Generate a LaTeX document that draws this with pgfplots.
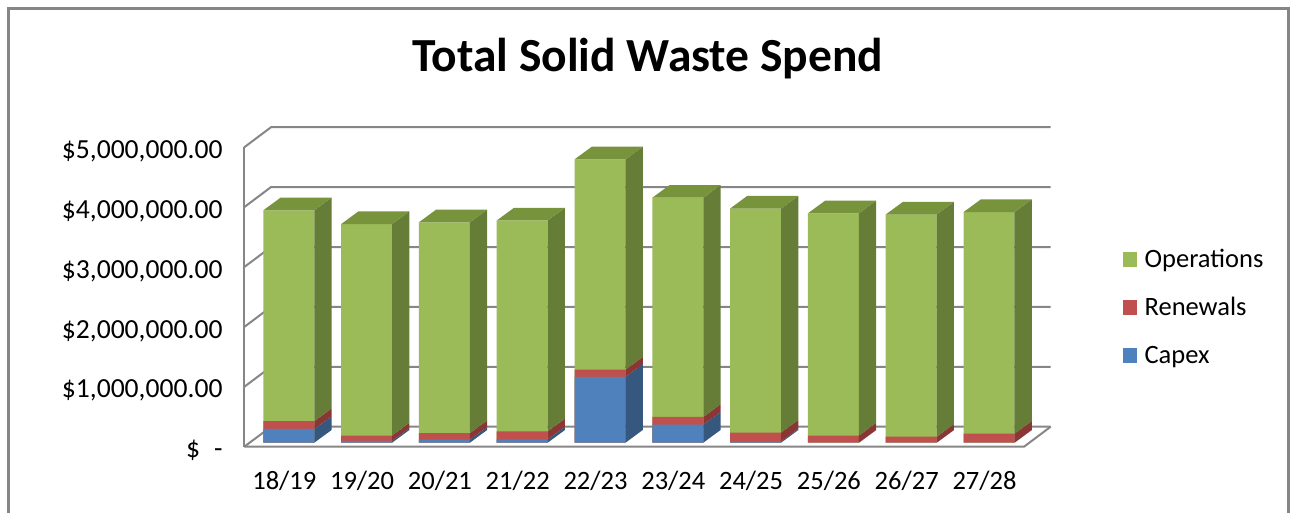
\documentclass[border=0pt]{standalone}
\usepackage{fontspec}
\setmainfont{Carlito}
\usepackage{pgfplots}
\usepackage{pgfplotstable}
\pgfplotsset{compat=1.18}

\definecolor{opsF}{HTML}{9BBB59}
\definecolor{opsS}{HTML}{657D36}
\definecolor{opsT}{HTML}{77933C}
\definecolor{renF}{HTML}{C0504D}
\definecolor{renS}{HTML}{8A3634}
\definecolor{capF}{HTML}{4F81BD}
\definecolor{capS}{HTML}{36587F}
\definecolor{gridc}{RGB}{134,134,134}

% values in millions of dollars
\pgfplotstableread{
idx capex ren ops
0 0.23 0.13 3.52
1 0.03 0.09 3.53
2 0.05 0.11 3.52
3 0.055 0.135 3.52
4 1.10 0.12 3.51
5 0.30 0.13 3.66
6 0.02 0.15 3.74
7 0.00 0.12 3.71
8 0.00 0.10 3.71
9 0.00 0.15 3.70
}\datatable

\begin{document}
\begin{tikzpicture}[x=1pt,y=1pt]
\path[use as bounding box] (0,0) rectangle (1297,512);
\clip (0,0) rectangle (1297,512);
\draw[gridc, line width=2.5pt] (8.5,-20) rectangle (1288.5,503.5);
\node[anchor=base, font=\fontsize{47.5}{52}\selectfont\bfseries] at (647.7,440) {Total Solid Waste Spend};

\begin{axis}[
  at={(244.3pt,65.3pt)}, anchor=south west,
  scale only axis, width=779.7pt, height=299.7pt,
  xmin=-0.572, xmax=9.450, ymin=-0.0668, ymax=4.937,
  clip=false,
  axis line style={draw=none},
  major tick length=0pt,
  xtick={0,...,9},
  xticklabels={18/19,19/20,20/21,21/22,22/23,23/24,24/25,25/26,26/27,27/28},
  ytick={-0.0668,0.9332,1.9332,2.9332,3.9332,4.9332},
  yticklabels={{\$\hspace{14pt}-\hspace{5pt}},{\$1,000,000.00},{\$2,000,000.00},{\$3,000,000.00},{\$4,000,000.00},{\$5,000,000.00}},
  ticklabel style={font=\fontsize{26.5}{30}\selectfont, inner sep=0pt},
  xticklabel style={anchor=center, yshift=-34.3pt, xshift=-4.5pt},
  yticklabel style={anchor=east, xshift=-21.6pt, yshift=-4pt, font=\fontsize{27.6}{31}\selectfont},
  legend style={draw=none, fill=none, at={(1.1266,0.4585)}, anchor=west,
    font=\fontsize{26.5}{30}\selectfont, row sep=24pt, column sep=8pt, inner sep=0pt,
    nodes={inner sep=0pt, text height=18pt, text depth=6pt}},
  legend cell align=left,
]
% walls and floor
\addplot[gridc, line width=2pt, forget plot] coordinates {(-0.572,-0.0668) (-0.572,4.9332)};
\addplot[gridc, line width=2pt, forget plot] coordinates {(-0.572,-0.0668) (9.450,-0.0668) (9.793,0.267)};
\pgfplotsinvokeforeach{0,1,2,3,4,5}{
  \pgfmathsetmacro\gF{#1-0.0668}
  \pgfmathsetmacro\gB{#1+0.267}
  \addplot[gridc, line width=2pt, forget plot] coordinates {(-0.572,\gF) (-0.229,\gB) (9.793,\gB)};
}
% bar front faces
\addplot[ybar, bar width=0.655, bar shift=0pt, fill=opsF, draw=none, forget plot]
  table[x=idx, y expr=\thisrow{capex}+\thisrow{ren}+\thisrow{ops}] {\datatable};
\addplot[ybar, bar width=0.655, bar shift=0pt, fill=renF, draw=none, forget plot]
  table[x=idx, y expr=\thisrow{capex}+\thisrow{ren}] {\datatable};
\addplot[ybar, bar width=0.655, bar shift=0pt, fill=capF, draw=none, forget plot]
  table[x=idx, y=capex] {\datatable};
% side and top faces
\pgfplotsinvokeforeach{0,...,9}{
  \pgfplotstablegetelem{#1}{capex}\of\datatable \let\vC\pgfplotsretval
  \pgfplotstablegetelem{#1}{ren}\of\datatable \let\vR\pgfplotsretval
  \pgfplotstablegetelem{#1}{ops}\of\datatable \let\vO\pgfplotsretval
  \pgfmathsetmacro\yA{\vC}
  \pgfmathsetmacro\yB{\vC+\vR}
  \pgfmathsetmacro\yT{\vC+\vR+\vO}
  \pgfmathsetmacro\yAb{\yA+0.212}
  \pgfmathsetmacro\yBb{\yB+0.212}
  \pgfmathsetmacro\yTb{\yT+0.212}
  \pgfmathsetmacro\xL{#1-0.3275}
  \pgfmathsetmacro\xR{#1+0.3275}
  \pgfmathsetmacro\xRb{#1+0.5495}
  \pgfmathsetmacro\xLb{#1-0.1055}
  \addplot[fill=capS, draw=none, forget plot] coordinates {(\xR,0) (\xRb,0.212) (\xRb,\yAb) (\xR,\yA)} -- cycle;
  \addplot[fill=renS, draw=none, forget plot] coordinates {(\xR,\yA) (\xRb,\yAb) (\xRb,\yBb) (\xR,\yB)} -- cycle;
  \addplot[fill=opsS, draw=none, forget plot] coordinates {(\xR,\yB) (\xRb,\yBb) (\xRb,\yTb) (\xR,\yT)} -- cycle;
  \addplot[fill=opsT, draw=none, forget plot] coordinates {(\xL,\yT) (\xR,\yT) (\xRb,\yTb) (\xLb,\yTb)} -- cycle;
}
\addlegendimage{legend image code/.code={\fill[opsF] (0pt,-4.7pt) rectangle (13.3pt,8.7pt);}}
\addlegendentry{Operations}
\addlegendimage{legend image code/.code={\fill[renF] (0pt,-4.7pt) rectangle (13.3pt,8.7pt);}}
\addlegendentry{Renewals}
\addlegendimage{legend image code/.code={\fill[capF] (0pt,-4.7pt) rectangle (13.3pt,8.7pt);}}
\addlegendentry{Capex}
\end{axis}
\end{tikzpicture}
\end{document}
